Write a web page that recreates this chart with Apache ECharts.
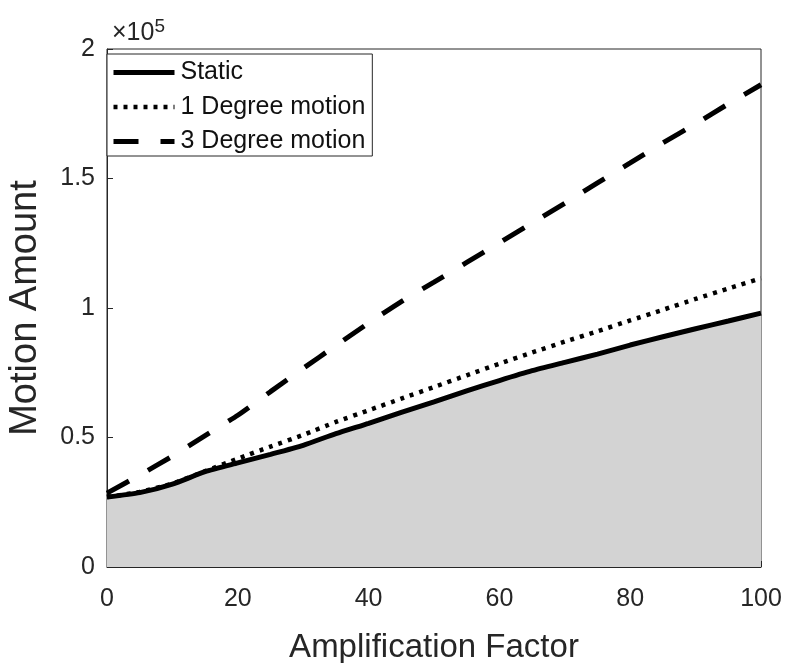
<!DOCTYPE html>
<html>
<head>
<meta charset="utf-8">
<script src="https://cdn.jsdelivr.net/npm/echarts@6/dist/echarts.min.js"></script>
<style>
  html, body { margin: 0; padding: 0; background: #fff; }
  #chart { width: 786px; height: 663px; }
</style>
</head>
<body>
<div id="chart"></div>
<script>
// amplification factor (x) and motion amount (y) for each case
var factor = [0, 5, 10, 15, 20, 25, 30, 35, 40, 45, 50, 55, 60, 65, 70, 75, 80, 85, 90, 95, 100];
var staticVals = [27000, 28700, 32000, 36800, 40200, 43500, 47000, 51500, 55500, 59700, 63800, 68000, 72000, 75800, 79000, 82200, 85700, 88900, 92000, 95000, 98000];
var deg1Vals = [27000, 29000, 32200, 37000, 41800, 46500, 51000, 56000, 60500, 65000, 69500, 74000, 78500, 82800, 87000, 91000, 95200, 99300, 103500, 107500, 111500];
var deg3Vals = [28500, 35500, 42800, 50700, 58600, 67700, 76700, 85500, 94200, 102500, 110000, 117600, 125200, 132800, 140400, 148300, 156000, 163800, 171100, 178800, 186200];
var seriesNames = ['Static', '1 Degree motion', '3 Degree motion'];
var xTicks = [0, 20, 40, 60, 80, 100];

function pairs(ys) {
    var out = [];
    for (var i = 0; i < factor.length; i++) out.push([factor[i], ys[i]]);
    return out;
}

var chart = echarts.init(document.getElementById('chart'));
var txt = '#262626';
var font = 'Liberation Sans, Arial, Helvetica, sans-serif';
var dots = [4, 6];
var dashes = [25, 22];

var option = {
    backgroundColor: '#fff',
    animation: false,
    textStyle: { fontFamily: font, color: txt },
    title: {
        left: 107, top: 12,
        text: '{a|×10}{b|5}',
        textStyle: {
            fontWeight: 'normal',
            rich: {
                a: { fontSize: 25, color: txt, fontFamily: font, fontWeight: 'normal', verticalAlign: 'bottom' },
                b: { fontSize: 19, color: txt, fontFamily: font, fontWeight: 'normal', verticalAlign: 'top', padding: [0, 0, 10, 0] }
            }
        }
    },
    grid: {
        left: 107, right: 25, top: 49, bottom: 96,
        outerBoundsMode: 'none', containLabel: false,
        show: true, borderColor: txt, borderWidth: 1, backgroundColor: 'transparent'
    },
    legend: {
        orient: 'vertical',
        left: 107, top: 54,
        padding: [6, 7, 2, 4],
        itemWidth: 61, itemHeight: 26, itemGap: 9.5,
        backgroundColor: '#fff',
        borderColor: txt, borderWidth: 1,
        textStyle: { fontSize: 25, color: '#111', fontFamily: font, padding: [0, 0, 0, 1] },
        itemStyle: { opacity: 0 },
        data: [
            { name: seriesNames[0], lineStyle: { width: 5, color: '#000', type: 'solid' } },
            { name: seriesNames[1], lineStyle: { width: 4.5, color: '#000', type: dots } },
            { name: seriesNames[2], lineStyle: { width: 5, color: '#000', type: dashes } }
        ]
    },
    xAxis: {
        type: 'value', min: 0, max: 100, interval: 20,
        name: 'Amplification Factor', nameLocation: 'middle', nameGap: 64,
        nameTextStyle: { fontSize: 33, color: txt, fontFamily: font },
        axisLine: { show: true, lineStyle: { color: txt, width: 1 } },
        axisTick: { show: true, inside: true, length: 6, lineStyle: { color: txt } },
        axisLabel: { fontSize: 25, color: txt, margin: 20, fontFamily: font,
            customValues: xTicks },
        splitLine: { show: false }
    },
    yAxis: {
        type: 'value', min: 0, max: 200000, interval: 50000,
        name: 'Motion Amount', nameLocation: 'middle', nameGap: 62,
        nameTextStyle: { fontSize: 38, color: txt, fontFamily: font },
        axisLine: { show: true, lineStyle: { color: txt, width: 1 } },
        axisTick: { show: true, inside: true, length: 6, lineStyle: { color: txt } },
        axisLabel: { fontSize: 25, color: txt, margin: 12, fontFamily: font,
            formatter: function (v) { return String(v / 100000); } },
        splitLine: { show: false }
    },
    series: [
        {
            name: seriesNames[0], type: 'line', data: pairs(staticVals),
            symbol: 'none', smooth: 0.2, z: 2,
            lineStyle: { color: '#000', width: 5, type: 'solid' },
            itemStyle: { color: '#000' },
            areaStyle: { color: '#d3d3d3', opacity: 1 }
        },
        {
            name: seriesNames[1], type: 'line', data: pairs(deg1Vals),
            symbol: 'none', smooth: 0.2, z: 3,
            lineStyle: { color: '#000', width: 4.5, type: dots },
            itemStyle: { color: '#000' }
        },
        {
            name: seriesNames[2], type: 'line', data: pairs(deg3Vals),
            symbol: 'none', smooth: 0.2, z: 4,
            lineStyle: { color: '#000', width: 5, type: dashes },
            itemStyle: { color: '#000' }
        }
    ]
};
chart.setOption(option);
</script>
</body>
</html>
